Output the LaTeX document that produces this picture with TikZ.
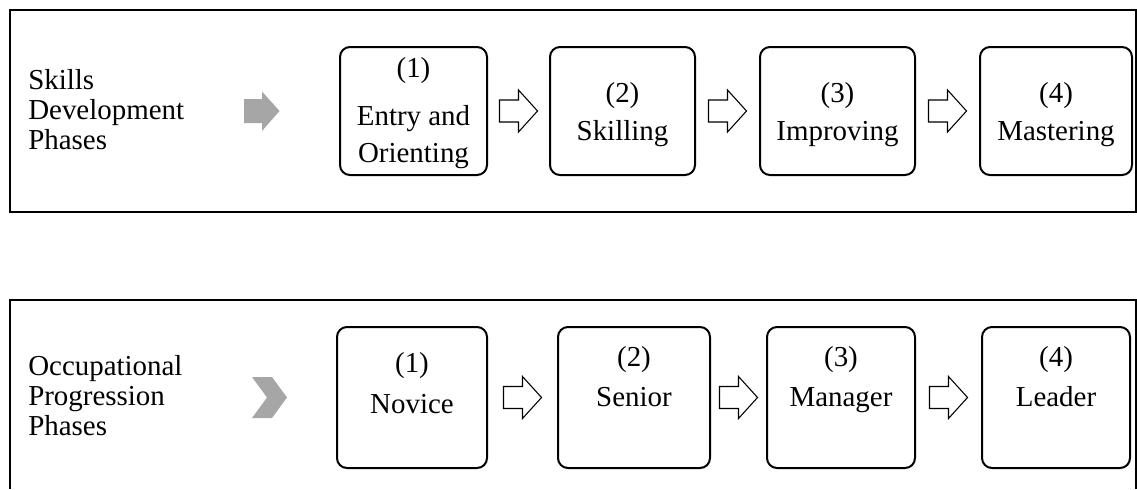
\documentclass[tikz,border=0pt]{standalone}
\usepackage{fontspec}
\usetikzlibrary{calc}
\setmainfont{Liberation Serif}
\definecolor{markgray}{HTML}{A6A6A6}
\begin{document}
\begin{tikzpicture}[x=0.75pt,y=-0.75pt,
  frameline/.style={line width=1.2pt},
  phasebox/.style={draw, line width=1.5pt, rounded corners=7.5pt, inner sep=0pt},
  topbox/.style={phasebox, minimum height=96pt},
  lowbox/.style={phasebox, minimum height=105.75pt},
  txt/.style={font=\fontsize{21.7}{22.5}\selectfont, inner sep=0pt, anchor=base},
  sidetxt/.style={txt, anchor=base west},
  hollowarrow/.pic={\draw[line width=0.8pt, fill=white]
      (-19,-11) -- (0,-11) -- (0,-21) -- (19,0) -- (0,21) -- (0,11) -- (-19,11) -- cycle;}
]
\useasboundingbox (0,0) rectangle (1137,489);

% outer frames
\draw[frameline] (10,10) rectangle (1136,212);
\draw[frameline] (10,489) -- (10,300) -- (1136,300) -- (1136,489);

% ---- skills development row ----
\node[sidetxt] (sk1) at (28,89) {Skills};
\node[sidetxt] (sk2) at (28,119) {Development};
\node[sidetxt] (sk3) at (28,149) {Phases};
\fill[markgray] (244,99) -- (262,99) -- (262,91.5) -- (279.5,111) -- (262,131) -- (262,123) -- (244,123) -- cycle;

\node[topbox, minimum width=110.25pt] (t1) at (413.5,111) {};
\node[topbox, minimum width=108.75pt] (t2) at (622.5,111) {};
\node[topbox, minimum width=116.25pt] (t3) at (837.5,111) {};
\node[topbox, minimum width=114pt]    (t4) at (1056,111) {};

\node[txt] (t1n) at (413.5,77) {(1)};
\node[txt] (t1a) at (413.5,125) {Entry and};
\node[txt] (t1b) at (413.5,162) {Orienting};
\node[txt] (t2n) at (622.5,102) {(2)};
\node[txt] (t2a) at (622.5,140) {Skilling};
\node[txt] (t3n) at (837.5,102) {(3)};
\node[txt] (t3a) at (837.5,140) {Improving};
\node[txt] (t4n) at (1056,102) {(4)};
\node[txt] (t4a) at (1056,140) {Mastering};

\coordinate (ta1) at ($(t1.east)!0.5!(t2.west)$);
\coordinate (ta2) at ($(t2.east)!0.5!(t3.west)$);
\coordinate (ta3) at ($(t3.east)!0.5!(t4.west)$);
\pic at (ta1) {hollowarrow};
\pic at (ta2) {hollowarrow};
\pic at (ta3) {hollowarrow};

% ---- occupational progression row ----
\node[sidetxt] (oc1) at (28,375) {Occupational};
\node[sidetxt] (oc2) at (28,405.5) {Progression};
\node[sidetxt] (oc3) at (28,435.5) {Phases};
\fill[markgray] (252,377) -- (272,377) -- (287,397.5) -- (272,418) -- (252,418) -- (267,397.5) -- cycle;

\node[lowbox, minimum width=112.5pt] (b1) at (412,397.5) {};
\node[lowbox, minimum width=114pt]   (b2) at (634,397.5) {};
\node[lowbox, minimum width=111pt]   (b3) at (841,397.5) {};
\node[lowbox, minimum width=111pt]   (b4) at (1056,397.5) {};

\node[txt] (b1n) at (412,372) {(1)};
\node[txt] (b1a) at (412,413) {Novice};
\node[txt] (b2n) at (634,366) {(2)};
\node[txt] (b2a) at (634,406.5) {Senior};
\node[txt] (b3n) at (841,366) {(3)};
\node[txt] (b3a) at (841,406) {Manager};
\node[txt] (b4n) at (1056,366) {(4)};
\node[txt] (b4a) at (1056,406) {Leader};

\coordinate (ba1) at ($(b1.east)!0.5!(b2.west)$);
\coordinate (ba2) at ($(b2.east)!0.5!(b3.west)$);
\coordinate (ba3) at ($(b3.east)!0.5!(b4.west)$);
\pic at (ba1) {hollowarrow};
\pic at (ba2) {hollowarrow};
\pic at (ba3) {hollowarrow};
\end{tikzpicture}
\end{document}
